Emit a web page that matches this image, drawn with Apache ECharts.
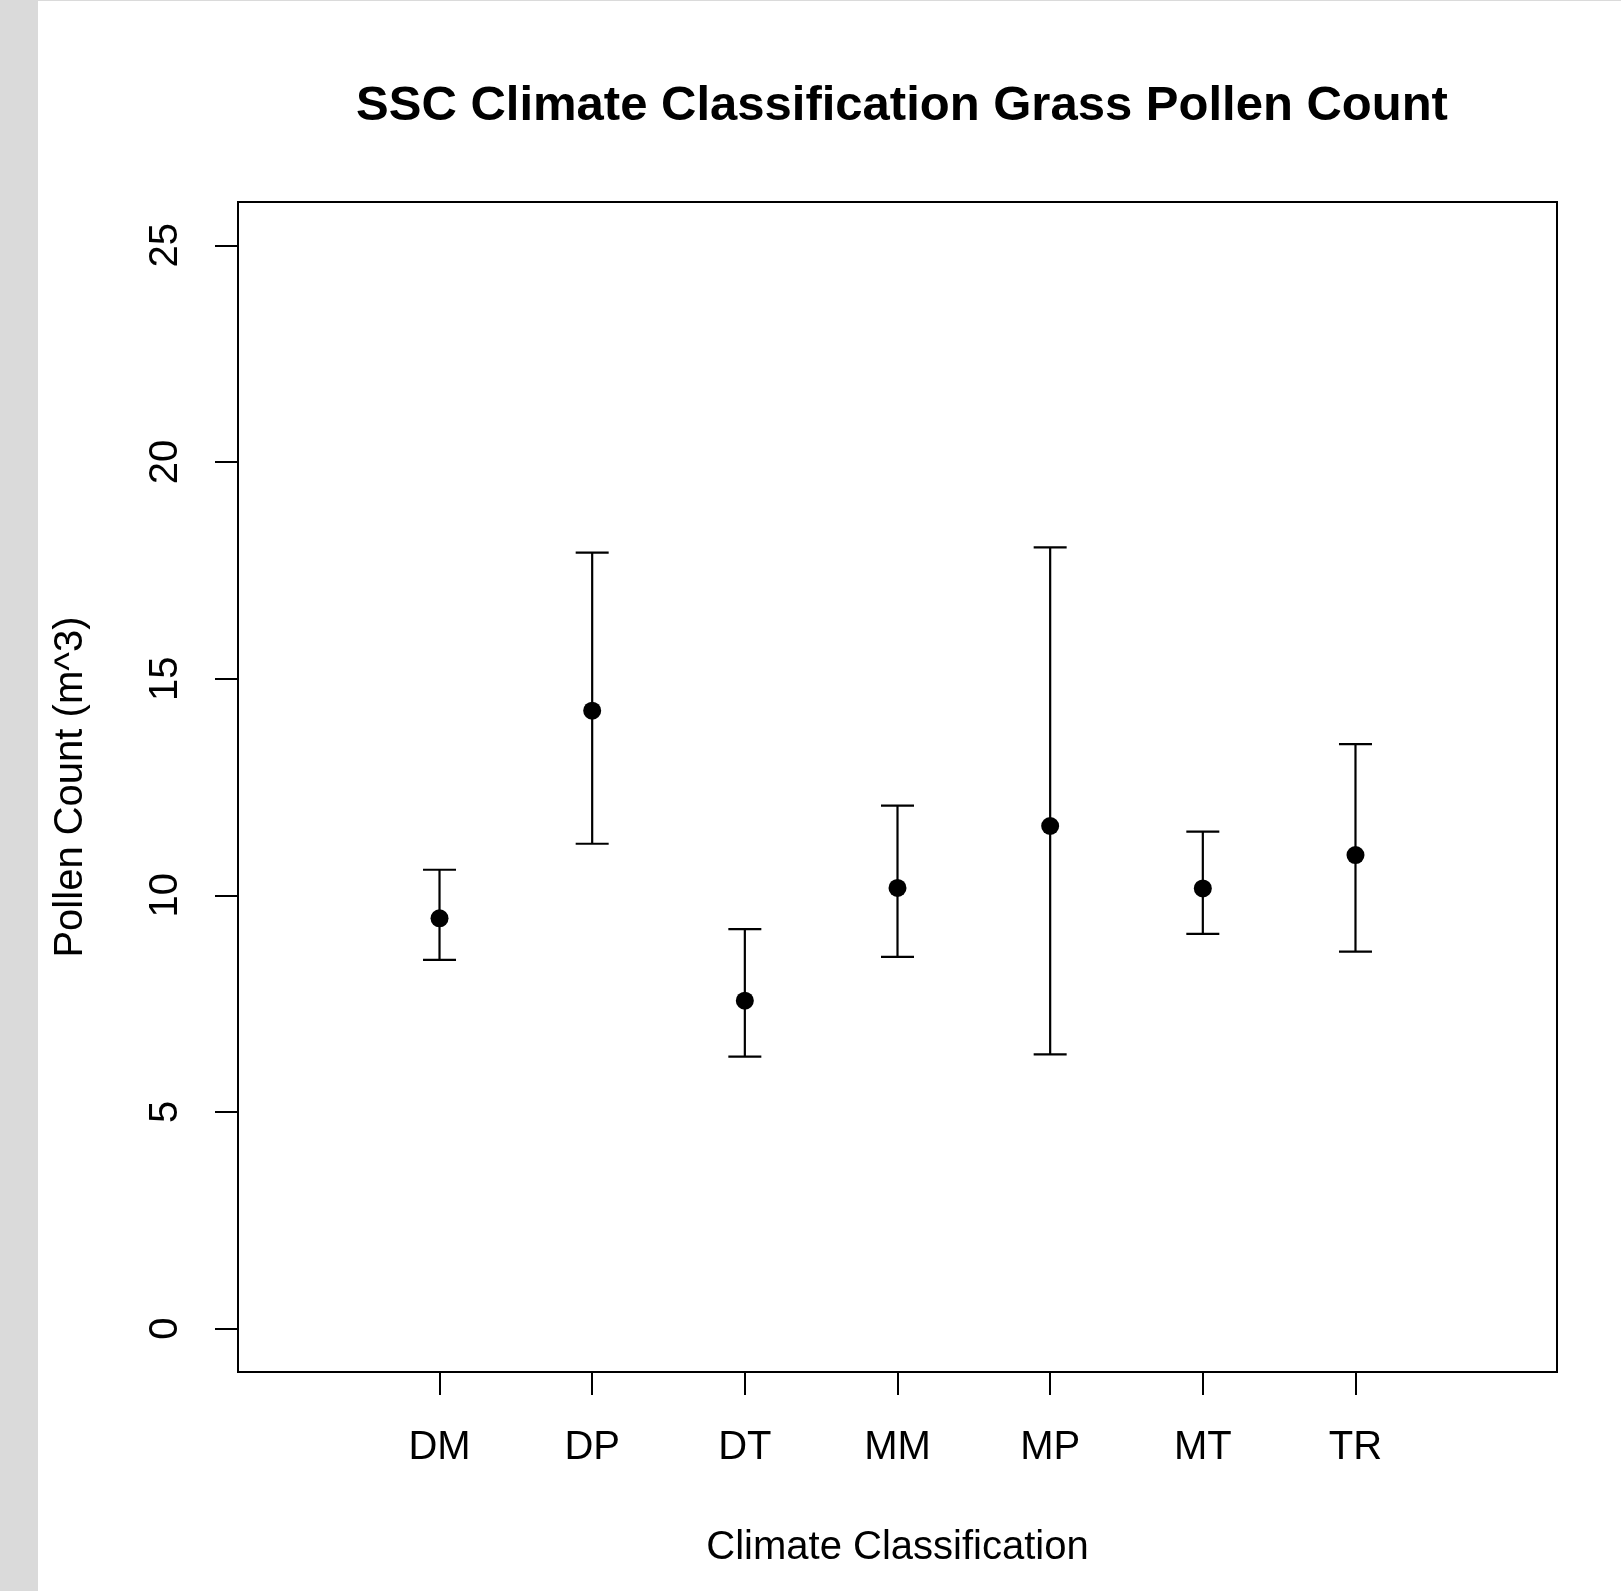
<!DOCTYPE html>
<html>
<head>
<meta charset="utf-8">
<script src="https://cdn.jsdelivr.net/npm/echarts@6/dist/echarts.min.js"></script>
<style>
html,body{margin:0;padding:0;background:#fff;}
#chart{width:1621px;height:1591px;}
</style>
</head>
<body>
<div id="chart"></div>
<script>
const categories = ['DM', 'DP', 'DT', 'MM', 'MP', 'MT', 'TR'];
const means = [9.47, 14.26, 7.57, 10.17, 11.60, 10.16, 10.93];
const upper = [10.59, 17.91, 9.22, 12.07, 18.03, 11.47, 13.49];
const lower = [8.51, 11.19, 6.28, 8.58, 6.33, 9.11, 8.70];
const yTicks = [0, 5, 10, 15, 20, 25];
const xPositions = categories.map((c, i) => i + 1);

const FONT = 'Liberation Sans, Arial, sans-serif';
const chart = echarts.init(document.getElementById('chart'), null, {renderer: 'canvas'});

const errData = xPositions.map((x, i) => [x, lower[i], upper[i]]);
const meanData = xPositions.map((x, i) => [x, means[i]]);

const option = {
  animation: false,
  backgroundColor: '#ffffff',
  title: {
    text: 'SSC Climate Classification Grass Pollen Count',
    left: 897,
    top: 77,
    textAlign: 'center',
    textStyle: {fontFamily: FONT, fontWeight: 'bold', fontSize: 49, color: '#000'}
  },
  graphic: [
    {type: 'rect', left: 0, top: 0, z: -10, shape: {width: 38, height: 1591}, style: {fill: '#dadada'}},
    {type: 'rect', left: 0, top: 0, z: -10, shape: {width: 1621, height: 1}, style: {fill: '#dadada'}}
  ],
  grid: {
    left: 238, top: 202, width: 1319, height: 1170,
    show: true, borderColor: '#000', borderWidth: 2, backgroundColor: 'transparent'
  },
  xAxis: {
    type: 'value', min: -0.32, max: 8.32,
    name: 'Climate Classification', nameLocation: 'middle', nameGap: 156,
    nameTextStyle: {fontFamily: FONT, fontSize: 40, color: '#000'},
    axisLine: {show: false, onZero: false},
    splitLine: {show: false},
    axisTick: {show: true, inside: false, length: 23, customValues: xPositions, lineStyle: {color: '#000', width: 2}},
    axisLabel: {
      show: true, margin: 56, customValues: xPositions,
      fontFamily: FONT, fontSize: 40, color: '#000',
      formatter: v => categories[Math.round(v) - 1] || ''
    }
  },
  yAxis: {
    type: 'value', min: -1, max: 26,
    name: 'Pollen Count (m^3)', nameLocation: 'middle', nameGap: 147, nameRotate: 90,
    nameTextStyle: {fontFamily: FONT, fontSize: 40, color: '#000'},
    axisLine: {show: false, onZero: false},
    splitLine: {show: false},
    axisTick: {show: true, inside: false, length: 23, customValues: yTicks, lineStyle: {color: '#000', width: 2}},
    axisLabel: {
      show: true, margin: 52, rotate: 90, customValues: yTicks,
      fontFamily: FONT, fontSize: 40, color: '#000'
    }
  },
  series: [
    {
      type: 'custom',
      data: errData,
      renderItem: function (params, api) {
        const x = api.value(0), lo = api.value(1), hi = api.value(2);
        const pHi = api.coord([x, hi]);
        const pLo = api.coord([x, lo]);
        const hw = 16.5;
        const st = {stroke: '#000', lineWidth: 2.2};
        return {
          type: 'group',
          children: [
            {type: 'line', shape: {x1: pHi[0], y1: pHi[1], x2: pLo[0], y2: pLo[1]}, style: st},
            {type: 'line', shape: {x1: pHi[0] - hw, y1: pHi[1], x2: pHi[0] + hw, y2: pHi[1]}, style: st},
            {type: 'line', shape: {x1: pLo[0] - hw, y1: pLo[1], x2: pLo[0] + hw, y2: pLo[1]}, style: st}
          ]
        };
      },
      z: 2
    },
    {
      type: 'scatter',
      data: meanData,
      symbol: 'circle',
      symbolSize: 18,
      itemStyle: {color: '#000', opacity: 1},
      z: 3
    }
  ]
};
chart.setOption(option);
</script>
</body>
</html>
